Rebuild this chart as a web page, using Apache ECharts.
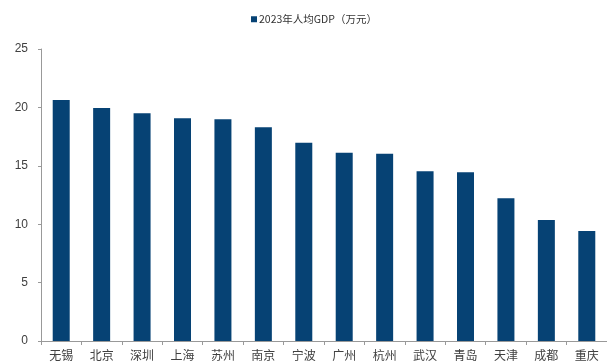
<!DOCTYPE html>
<html>
<head>
<meta charset="utf-8">
<script src="https://cdn.jsdelivr.net/npm/echarts@6/dist/echarts.min.js"></script>
<style>
  html, body { margin: 0; padding: 0; background: #fff; }
  #chart { width: 607px; height: 363px; }
</style>
</head>
<body>
<div id="chart"></div>
<script>
// City names along the category axis
const cities = ['无锡', '北京', '深圳', '上海', '苏州', '南京', '宁波', '广州', '杭州', '武汉', '青岛', '天津', '成都', '重庆'];
// 2023 GDP per capita, in 10k yuan
const gdpPerCapita = [20.63, 19.95, 19.49, 19.07, 18.98, 18.3, 16.98, 16.12, 16.04, 14.53, 14.44, 12.22, 10.36, 9.42];
const seriesName = '2023年人均GDP（万元）';
const yTicks = { min: 0, max: 25, interval: 5 };

const chart = echarts.init(document.getElementById('chart'), null, { renderer: 'canvas' });
chart.setOption({
  animation: false,
  backgroundColor: '#ffffff',
  textStyle: { fontFamily: '"Liberation Sans", "Noto Sans CJK SC", sans-serif' },
  legend: {
    top: 9,
    left: 246,
    itemWidth: 6,
    itemHeight: 6,
    itemGap: 4,
    icon: 'rect',
    textStyle: { fontSize: 10.5, color: '#333', fontFamily: '"Noto Sans CJK SC", sans-serif', padding: [0, 0, 0, -3] },
    data: [seriesName]
  },
  grid: { left: 41, top: 49, bottom: 22, width: 573, containLabel: false },
  xAxis: {
    type: 'category',
    data: cities,
    boundaryGap: true,
    axisLine: { lineStyle: { color: '#999', width: 1 } },
    axisTick: { show: true, length: 4, alignWithLabel: false, lineStyle: { color: '#999' } },
    axisLabel: { color: '#404040', fontSize: 12, margin: 8, fontFamily: '"Noto Sans CJK SC", sans-serif', interval: 0 }
  },
  yAxis: {
    type: 'value',
    min: yTicks.min,
    max: yTicks.max,
    interval: yTicks.interval,
    axisLine: { show: true, lineStyle: { color: '#999', width: 1 } },
    axisTick: { show: true, length: 3, lineStyle: { color: '#999' } },
    splitLine: { show: false },
    axisLabel: { color: '#404040', fontSize: 12, margin: 13 }
  },
  series: [{
    name: seriesName,
    type: 'bar',
    data: gdpPerCapita,
    barWidth: 17,
    itemStyle: { color: '#064274' }
  }]
});
</script>
</body>
</html>
